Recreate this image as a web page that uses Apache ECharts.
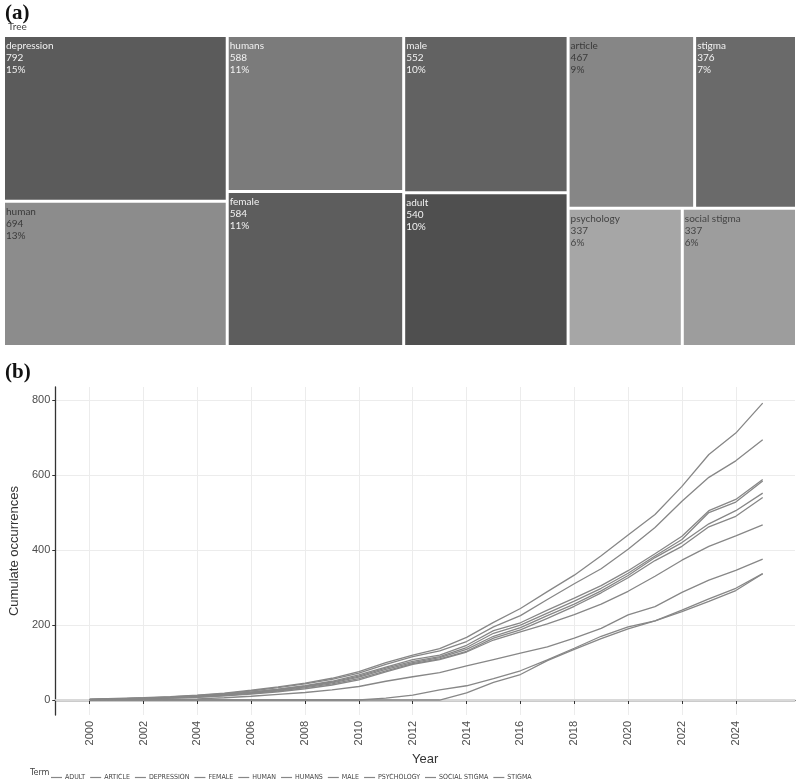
<!DOCTYPE html>
<html>
<head>
<meta charset="utf-8">
<title>Tree + cumulate occurrences</title>
<script src="https://cdn.jsdelivr.net/npm/echarts@6/dist/echarts.min.js"></script>
<style>
  html, body { margin: 0; padding: 0; background: #fff; }
  #chart { width: 800px; height: 779px; }
</style>
</head>
<body>
<div id="chart"></div>
<script>
  // terms, ordered as in the treemap
  const terms = ['depression', 'human', 'humans', 'female', 'male', 'adult', 'article', 'stigma', 'psychology', 'social stigma'];
  const totals = [792, 694, 588, 584, 552, 540, 467, 376, 337, 337];
  const tileColors = ['#5b5b5b', '#8c8c8c', '#7b7b7b', '#5d5d5d', '#626262', '#4f4f4f', '#868686', '#6a6a6a', '#a6a6a6', '#9d9d9d'];
  const tileText = ['#f2f2f2', '#3a3a3a', '#f2f2f2', '#f2f2f2', '#f2f2f2', '#f2f2f2', '#3a3a3a', '#f2f2f2', '#444', '#444'];

  // years 2000..2025
  const years = [];
  for (let y = 2000; y <= 2025; y++) years.push(y);
  const yearTicks = [2000, 2002, 2004, 2006, 2008, 2010, 2012, 2014, 2016, 2018, 2020, 2022, 2024];
  const countTicks = [0, 200, 400, 600, 800];

  // cumulative counts per term
  const adult = [1, 2, 4, 6, 8, 12, 18, 24, 33, 43, 57, 78, 97, 110, 130, 165, 187, 218, 250, 286, 326, 372, 410, 462, 490, 540];
  const article = [1, 2, 3, 5, 7, 11, 16, 22, 30, 40, 54, 75, 95, 108, 128, 160, 182, 203, 228, 256, 290, 330, 373, 410, 438, 467];
  const depression = [2, 4, 6, 9, 13, 18, 26, 35, 45, 58, 76, 100, 120, 137, 167, 207, 244, 289, 333, 385, 440, 495, 570, 655, 712, 792];
  const female = [1, 3, 5, 7, 10, 15, 21, 28, 37, 48, 64, 85, 103, 116, 140, 178, 200, 232, 264, 298, 338, 384, 428, 500, 528, 584];
  const human = [2, 3, 5, 8, 12, 17, 24, 33, 43, 55, 72, 95, 116, 131, 156, 195, 225, 268, 310, 350, 402, 460, 530, 594, 638, 694];
  const humans = [1, 3, 5, 7, 11, 15, 21, 29, 38, 50, 67, 88, 108, 120, 146, 185, 206, 240, 272, 305, 345, 390, 437, 505, 535, 588];
  const male = [1, 2, 4, 6, 9, 13, 19, 26, 35, 46, 61, 82, 100, 113, 135, 170, 193, 225, 256, 291, 332, 380, 420, 470, 505, 552];
  const psychology = [0, 0, 0, 0, 0, 0, 0, 0, 0, 0, 0, 0, 0, 0, 19, 47, 68, 105, 135, 164, 190, 211, 236, 263, 292, 337];
  const socialStigma = [0, 0, 0, 0, 0, 0, 0, 0, 0, 0, 0, 5, 13, 27, 38, 57, 78, 107, 138, 170, 195, 211, 240, 270, 298, 337];
  const stigma = [0, 1, 1, 2, 3, 6, 10, 15, 20, 27, 36, 50, 62, 73, 91, 108, 125, 142, 165, 191, 227, 249, 287, 320, 346, 376];

  const lineNames = ['adult', 'article', 'depression', 'female', 'human', 'humans', 'male', 'psychology', 'social stigma', 'stigma'];
  const lineValues = [adult, article, depression, female, human, humans, male, psychology, socialStigma, stigma];

  const grandTotal = totals.reduce((a, b) => a + b, 0);
  const axisFont = '"Liberation Sans", Arial, sans-serif';
  const narrowFont = '"Liberation Sans Narrow", "DejaVu Sans Condensed", sans-serif';

  const chart = echarts.init(document.getElementById('chart'));

  const treeData = terms.map((t, i) => ({
    name: t,
    value: totals[i],
    itemStyle: { color: tileColors[i] },
    label: { color: tileText[i] },
  }));

  const lineSeries = lineNames.map((n, i) => {
    const s = {
      name: n,
      type: 'line',
      showSymbol: false,
      symbol: 'none',
      smooth: false,
      data: years.map((y, k) => [y, lineValues[i][k]]),
      lineStyle: { color: '#878787', width: 1.3 },
      itemStyle: { color: '#878787' },
      emphasis: { disabled: true },
      z: 3,
    };
    if (i === 0) {
      // zero line is a bit stronger than the grid
      s.markLine = {
        silent: true,
        symbol: 'none',
        label: { show: false },
        lineStyle: { color: '#d9d9d9', width: 2, type: 'solid' },
        data: [{ yAxis: 0 }],
        z: 1,
      };
    }
    return s;
  });

  const option = {
    animation: false,
    textStyle: { fontFamily: axisFont },
    graphic: [
      { type: 'text', left: 5, top: 3, style: { text: '(a)', font: 'bold 21px "Liberation Serif"', fill: '#111' } },
      { type: 'text', left: 8, top: 22, style: { text: 'Tree', font: '10px Lato', fill: '#444' } },
      { type: 'text', left: 5, top: 362, style: { text: '(b)', font: 'bold 21px "Liberation Serif"', fill: '#111' } },
      { type: 'text', left: 30, top: 768, style: { text: 'Term', font: '9px ' + narrowFont, fill: '#444' } },
    ],
    legend: {
      left: 46,
      top: 769,
      itemWidth: 11,
      itemHeight: 1.2,
      itemGap: 5,
      icon: 'rect',
      data: lineNames,
      formatter: (n) => n.toUpperCase(),
      textStyle: {
        fontSize: 7,
        color: '#444',
        fontFamily: narrowFont,
        padding: [0, 0, 0, -2],
      },
      selectedMode: false,
    },
    grid: { left: 43, right: 5, top: 387, bottom: 64, containLabel: false },
    xAxis: {
      type: 'value',
      min: 1998.72,
      max: 2026.2,
      name: 'Year',
      nameLocation: 'middle',
      nameGap: 38,
      nameTextStyle: { fontSize: 13, color: '#333', fontFamily: axisFont },
      axisLine: { show: true, lineStyle: { color: '#333', width: 1.3 } },
      axisTick: { show: true, length: 4, customValues: yearTicks, lineStyle: { color: '#333' } },
      axisLabel: {
        customValues: yearTicks,
        rotate: 90,
        fontSize: 11,
        color: '#4d4d4d',
        fontFamily: axisFont,
        margin: 6,
        formatter: (v) => String(v),
      },
      splitLine: { show: true, lineStyle: { color: '#ececec', width: 1 } },
    },
    yAxis: {
      type: 'value',
      min: -40,
      max: 835,
      name: 'Cumulate occurrences',
      nameLocation: 'middle',
      nameGap: 25,
      nameTextStyle: { fontSize: 13, color: '#333', fontFamily: axisFont },
      axisLine: { show: true, lineStyle: { color: '#333', width: 1.3 } },
      axisTick: { show: true, length: 3, customValues: countTicks, lineStyle: { color: '#333' } },
      axisLabel: { customValues: countTicks, fontSize: 11, color: '#4d4d4d', fontFamily: axisFont, margin: 5 },
      splitLine: { show: true, lineStyle: { color: '#ececec', width: 1 } },
    },
    series: [
      {
        type: 'treemap',
        left: 5,
        top: 37,
        width: 790,
        height: 308,
        roam: false,
        nodeClick: false,
        breadcrumb: { show: false },
        sort: false,
        label: {
          show: true,
          position: 'insideTopLeft',
          fontFamily: 'Lato',
          fontSize: 10,
          lineHeight: 12,
          padding: [3, 0, 0, 1],
          formatter: (p) => p.name + '\n' + p.value + '\n' + Math.round(p.value / grandTotal * 100) + '%',
        },
        upperLabel: { show: false },
        itemStyle: { borderWidth: 0, gapWidth: 3, borderColor: '#fff' },
        levels: [{ itemStyle: { borderWidth: 0, gapWidth: 3, borderColor: '#fff' } }],
        emphasis: { disabled: true },
        data: treeData,
      },
    ].concat(lineSeries),
  };

  chart.setOption(option);
</script>
</body>
</html>
